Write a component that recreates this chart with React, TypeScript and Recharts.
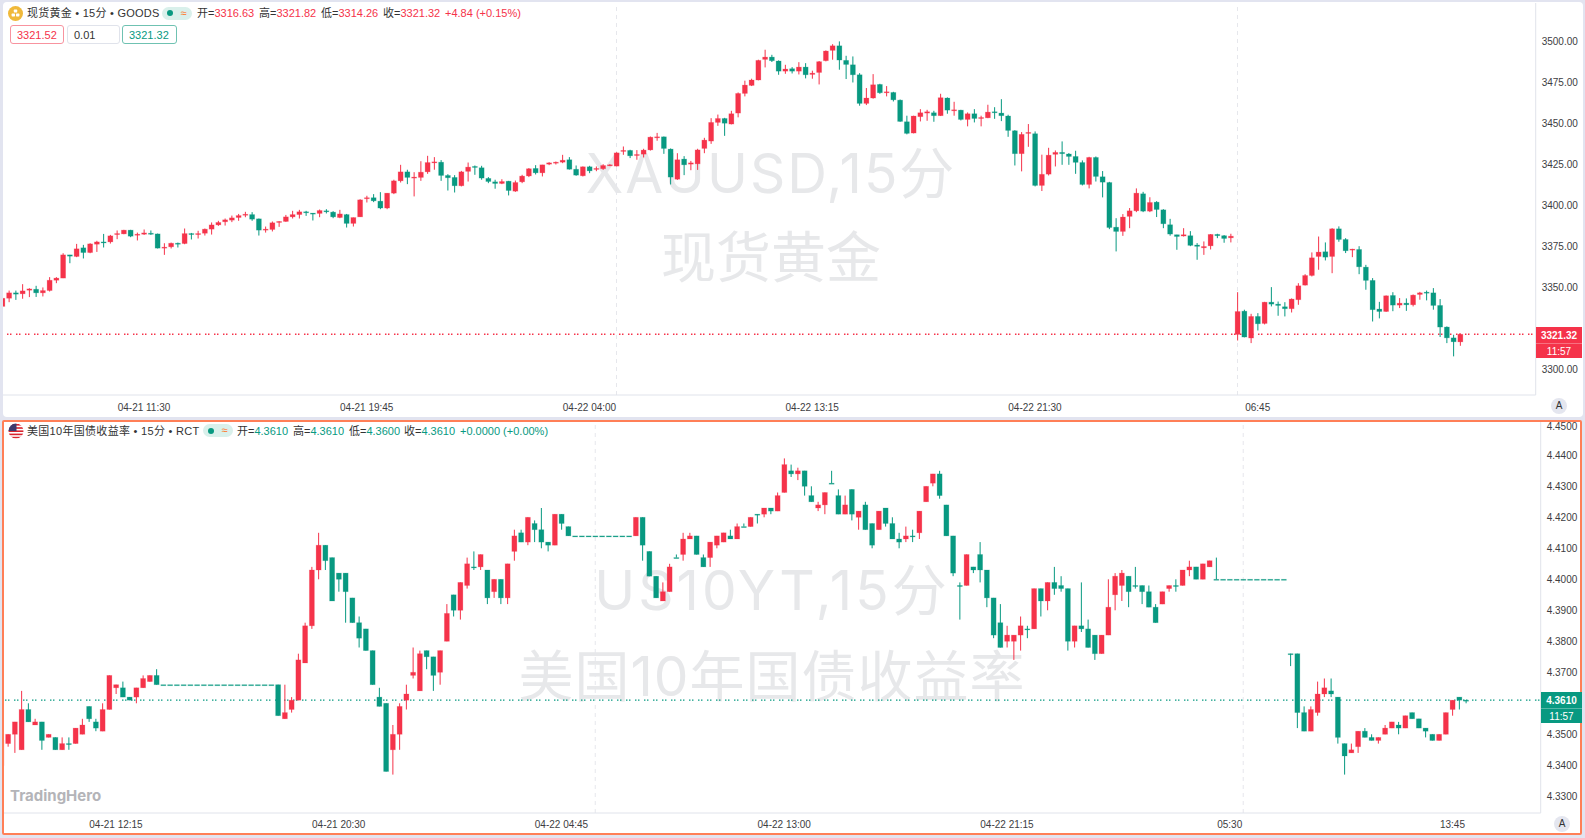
// Two stacked candlestick panels: spot gold and the US 10Y yield, 15 minute bars.

import { ComposedChart, Bar, XAxis, YAxis, ReferenceLine } from 'recharts'

const UP = '#f5334a'
const DOWN = '#089981'
const FONT = "'Liberation Sans', 'Noto Sans CJK SC', sans-serif"

const xauOpen = [
  3338.3, 3343.3, 3346.6, 3346, 3348.2, 3348.8, 3346.6, 3348, 3354.3, 3355.6,
  3369.8, 3368.8, 3374.1, 3371.2, 3376.3, 3377.7, 3377.7, 3382.2, 3382.6, 3384.9,
  3381.8, 3382.4, 3383, 3382.6, 3373.9, 3374.7, 3376.9, 3376.7, 3382.8, 3382.2,
  3383, 3385.5, 3388.1, 3390, 3391, 3392.6, 3394, 3394.4, 3391.8, 3384.9,
  3385.3, 3389.6, 3390.2, 3393, 3394.4, 3396.1, 3395.3, 3395.1, 3396.7, 3395.9,
  3392.6, 3394.4, 3389, 3393, 3404.1, 3404.7, 3402.6, 3398.4, 3407.5, 3415,
  3420.5, 3416.7, 3417.1, 3420.5, 3426.2, 3426.4, 3418.3, 3417.1, 3412, 3420.8,
  3423.8, 3423, 3416.5, 3414.4, 3413.4, 3414.8, 3408.7, 3414.4, 3418, 3422.6,
  3419.9, 3425.2, 3425.8, 3426.4, 3427.9, 3422.1, 3418.1, 3423.6, 3422, 3422.4,
  3424.2, 3424, 3433, 3433.6, 3430.5, 3431.3, 3433.9, 3441.3, 3441.9, 3434.4,
  3416, 3428.3, 3425.2, 3425.4, 3434.8, 3439.3, 3450.7, 3453.1, 3449.7, 3456.4,
  3468.4, 3473.3, 3476.6, 3489.2, 3490.6, 3488.2, 3482, 3483.5, 3482, 3484.5,
  3480, 3481.2, 3488.4, 3494.7, 3497.5, 3488.6, 3485.9, 3479.8, 3462.3, 3465.6,
  3473.9, 3468.8, 3469, 3464.3, 3451.1, 3444.2, 3454.2, 3456.4, 3456.6, 3454.8,
  3465.6, 3457.8, 3458.2, 3452.5, 3456, 3453.1, 3453.5, 3457.2, 3456.4, 3454.6,
  3445.6, 3431.6, 3444, 3443.8, 3412.2, 3419.1, 3431.2, 3432.4, 3431.4, 3429.9,
  3426.2, 3412.8, 3429.3, 3417.5, 3414, 3386.7, 3384.1, 3393.3, 3396.7, 3407.1,
  3396.5, 3402, 3397.3, 3388.2, 3382.1, 3381.3, 3381.5, 3375.8, 3374.1, 3375.3,
  3382.3, 3381.5, 3380.2, 3321.2, 3335.4, 3319, 3332.2, 3327.9, 3340.9, 3339.7,
  3338.1, 3336.9, 3342.4, 3351.3, 3357.2, 3368.8, 3371.7, 3368.8, 3385.7, 3379.2,
  3372.7, 3373.1, 3362.3, 3354.2, 3336.7, 3335.2, 3345, 3339.1, 3340.3, 3339.3,
  3345.6, 3347, 3346.6, 3338.9, 3325.7, 3319.1, 3316.63,
]
const xauHigh = [
  3343.3, 3348, 3348, 3351.9, 3349.4, 3350.9, 3349.9, 3356.2, 3356.2, 3370.8,
  3369.8, 3376.5, 3375.9, 3376.9, 3378.4, 3382.6, 3382, 3384.7, 3385.1, 3385.1,
  3383.4, 3385.3, 3384.7, 3382.8, 3376.9, 3377.3, 3377.3, 3385.9, 3383.2, 3384.5,
  3385.9, 3389.6, 3390.6, 3392, 3393.8, 3394.8, 3396.1, 3395.9, 3392, 3387.1,
  3390.2, 3390.4, 3394.2, 3396.7, 3397.3, 3396.7, 3395.3, 3397.5, 3397.7, 3396.5,
  3397.3, 3394.8, 3392.6, 3403.8, 3405.9, 3406.9, 3408.1, 3407.5, 3415.7, 3424.8,
  3421.8, 3420.3, 3427, 3430.3, 3429.5, 3427.7, 3419.1, 3418.5, 3421.1, 3426.2,
  3424.4, 3424.2, 3417.3, 3415.7, 3416, 3415, 3415.2, 3418.7, 3422.8, 3424.6,
  3424.8, 3426.4, 3426.8, 3430.9, 3429.5, 3424.4, 3423.8, 3424.2, 3423.8, 3425.2,
  3425.2, 3432.5, 3436, 3434, 3433.8, 3434.6, 3442.1, 3444.3, 3442.1, 3434.8,
  3431.9, 3430.1, 3427.2, 3434.6, 3441.3, 3453.3, 3455.5, 3453.5, 3457.8, 3469,
  3476.2, 3477.4, 3489, 3495.1, 3492, 3488.6, 3485.9, 3484.5, 3487.5, 3486.9,
  3482.3, 3488.2, 3494.7, 3498.5, 3500.2, 3491.4, 3491, 3480.8, 3471.7, 3480.2,
  3474.3, 3472.9, 3469.4, 3464.7, 3454.8, 3454.8, 3458.8, 3458.4, 3457.8, 3468.2,
  3466, 3463.3, 3458.4, 3456.8, 3458.8, 3454.8, 3461.5, 3460, 3464.9, 3455.4,
  3446, 3444.8, 3449.7, 3445.2, 3431, 3435.2, 3433.6, 3439.1, 3432, 3433.4,
  3427.5, 3429.7, 3429.9, 3421, 3414.4, 3392.2, 3394.7, 3398.4, 3410.4, 3408.3,
  3405, 3402.6, 3397.7, 3391.8, 3382.1, 3386.1, 3384.3, 3377, 3378, 3382.5,
  3382.7, 3381.9, 3382.7, 3347, 3336.3, 3333.8, 3334.2, 3341.1, 3350.1, 3341.3,
  3340.9, 3343.2, 3352.5, 3358, 3371.3, 3381, 3377.4, 3386.1, 3387.2, 3380,
  3373.5, 3375.1, 3363.7, 3355.6, 3341.1, 3345, 3347, 3343.4, 3343.2, 3345.6,
  3347.2, 3348, 3349.5, 3342.8, 3326.1, 3321, 3321.82,
]
const xauLow = [
  3338.3, 3340.9, 3342.3, 3343, 3344, 3344.1, 3344.4, 3347.4, 3352.5, 3355.6,
  3364.7, 3368.4, 3367.6, 3370.8, 3371.6, 3374.3, 3376.7, 3379.4, 3382.4, 3380.6,
  3378.6, 3382, 3382, 3373.7, 3369.8, 3373.7, 3374.3, 3376.3, 3379.2, 3379.8,
  3381.6, 3382.2, 3387.5, 3387.7, 3389.8, 3390.6, 3392.8, 3390.6, 3381.6, 3383.4,
  3384.1, 3386.9, 3390, 3392, 3392, 3393.6, 3390.8, 3392.8, 3395.1, 3392.2,
  3392.2, 3386.5, 3387.1, 3393, 3401.8, 3402, 3397.7, 3397.7, 3406.9, 3414,
  3413, 3405.5, 3415, 3419.3, 3421.8, 3415, 3409.1, 3407.9, 3411.6, 3414.6,
  3418.7, 3415.7, 3413.6, 3410.2, 3413, 3406.1, 3408.3, 3413.6, 3417.3, 3418.9,
  3417.7, 3424.6, 3425, 3425.8, 3421.9, 3418.1, 3417.7, 3419.7, 3420.9, 3421.7,
  3424, 3423.8, 3430.9, 3428.9, 3427.9, 3429.3, 3433.5, 3439.5, 3431.5, 3412.8,
  3415.6, 3418.5, 3421.5, 3421.7, 3431.9, 3437.6, 3448.6, 3442.5, 3449.5, 3453.8,
  3466.6, 3472.9, 3476.4, 3484.3, 3487.6, 3479.8, 3480.4, 3480.6, 3480, 3477.6,
  3477.4, 3473.9, 3488, 3489, 3482.9, 3477.2, 3475.1, 3460.9, 3461.3, 3465.2,
  3468.2, 3466.6, 3463.5, 3451.1, 3443.4, 3444, 3451.3, 3451.7, 3451.1, 3454.6,
  3456, 3454.8, 3451.9, 3448.3, 3450.7, 3448.3, 3453.3, 3452.9, 3451.5, 3441.9,
  3424.4, 3420.8, 3435.8, 3411.6, 3408.8, 3418.3, 3423.8, 3424.8, 3424.8, 3419.3,
  3412.2, 3410.4, 3414.6, 3404.9, 3385.5, 3371.9, 3381.4, 3386.1, 3395.9, 3395.9,
  3395.9, 3392.9, 3386.1, 3381.5, 3372.9, 3381, 3375.1, 3366.8, 3369.8, 3373.1,
  3380, 3377.2, 3377.4, 3317.5, 3319.4, 3315.9, 3323.6, 3327.3, 3338.3, 3332.6,
  3332.2, 3334.6, 3339.3, 3351.1, 3356.6, 3360.7, 3366.4, 3358.6, 3377.8, 3370.9,
  3368.4, 3358, 3348.5, 3329.1, 3331, 3335, 3335.4, 3337.3, 3335.6, 3338.3,
  3342.4, 3342, 3336.3, 3319.6, 3315.9, 3307.8, 3314.26,
]
const xauClose = [
  3343.3, 3346.6, 3345.8, 3347.8, 3349, 3346.6, 3348, 3354.3, 3355.6, 3369.8,
  3369, 3373.5, 3371.2, 3376.5, 3377.7, 3377.1, 3381.4, 3382.8, 3384.9, 3381.2,
  3382.4, 3383.2, 3382.6, 3373.9, 3374.5, 3376.9, 3376.5, 3382.8, 3382.2, 3382.8,
  3385.5, 3388.1, 3389.6, 3391.2, 3392.4, 3393.8, 3394.6, 3391.6, 3384.9, 3385.5,
  3389.4, 3390.2, 3393, 3394.4, 3396.1, 3395.7, 3394.9, 3396.9, 3396.1, 3393,
  3394.8, 3389, 3392.6, 3403.4, 3404.7, 3402.8, 3398.4, 3407.5, 3415, 3420.5,
  3417.1, 3417.3, 3420.3, 3426.2, 3426.6, 3418.3, 3416.9, 3412, 3420.5, 3423.4,
  3423.2, 3416.7, 3414.6, 3413.4, 3414.6, 3409.1, 3414, 3417.9, 3422.4, 3419.9,
  3424.8, 3426, 3426.4, 3427.6, 3422.1, 3418.5, 3423.6, 3421.1, 3422.6, 3424.4,
  3424.8, 3432.1, 3433.6, 3430.3, 3431.1, 3433.8, 3441.7, 3441.9, 3434.8, 3417.3,
  3427.9, 3424.8, 3426, 3433.9, 3439.9, 3450.7, 3453.1, 3450.2, 3456, 3468.4,
  3473.5, 3476.6, 3488.6, 3490.6, 3488.4, 3482, 3483.3, 3482, 3484.5, 3479.8,
  3480.8, 3487.8, 3494.3, 3497.5, 3488.8, 3486.1, 3479.8, 3462.3, 3465.6, 3473.7,
  3468.8, 3469.4, 3464.5, 3451.3, 3444, 3454.6, 3456.6, 3457.2, 3454.8, 3465.8,
  3458.2, 3458.4, 3452.5, 3456, 3453.1, 3453.7, 3457, 3456.6, 3454.8, 3445.8,
  3431.6, 3443.4, 3444.6, 3412.2, 3419, 3430.7, 3432.4, 3431.6, 3429.9, 3426.3,
  3412.8, 3429.3, 3417.7, 3414.2, 3386.5, 3384.1, 3392.9, 3396.7, 3407.5, 3396.5,
  3401.8, 3397.5, 3388.8, 3382.5, 3381, 3382.1, 3375.6, 3375, 3374.9, 3382.3,
  3381.5, 3379.8, 3381.2, 3335.2, 3319.6, 3332.2, 3327.7, 3340.9, 3339.7, 3338.9,
  3336.9, 3342.8, 3350.9, 3357.2, 3368, 3371.5, 3368.4, 3385.7, 3379.2, 3372.3,
  3373.3, 3362.5, 3354.2, 3336.3, 3335.2, 3344.8, 3339.1, 3340.3, 3339.3, 3345.2,
  3346.6, 3346.4, 3338.9, 3325.7, 3319.1, 3316.7, 3321.32,
]
const xauPriceTicks = [3500, 3475, 3450, 3425, 3400, 3375, 3350, 3300]
const xauTimeIndex = [21, 54, 87, 120, 153, 186]
const xauTimeLabels = ['04-21 11:30', '04-21 19:45', '04-22 04:00', '04-22 13:15', '04-22 21:30', '06:45']
const xauDayBreaks = [91, 183]
const xauLast = 3321.32

const usOpen = [
  4.34, 4.347, 4.35, 4.345, 4.358, 4.353, 4.354, 4.349, 4.349, 4.345,
  4.347, 4.347, 4.35, 4.359, 4.354, 4.351, 4.358, 4.365, 4.365, 4.362,
  4.362, 4.365, 4.367, 4.369, 4.366, 4.366, 4.366, 4.366, 4.366, 4.366,
  4.366, 4.366, 4.366, 4.366, 4.366, 4.366, 4.366, 4.366, 4.366, 4.366,
  4.366, 4.366, 4.355, 4.358, 4.361, 4.373, 4.385, 4.403, 4.411, 4.407,
  4.402, 4.402, 4.394, 4.386, 4.384, 4.377, 4.362, 4.36, 4.345, 4.35,
  4.361, 4.369, 4.364, 4.377, 4.375, 4.37, 4.38, 4.395, 4.39, 4.398,
  4.404, 4.404, 4.403, 4.396, 4.4, 4.394, 4.409, 4.415, 4.412, 4.418,
  4.416, 4.412, 4.411, 4.421, 4.417, 4.414, 4.414, 4.414, 4.414, 4.414,
  4.414, 4.414, 4.414, 4.414, 4.414, 4.42, 4.409, 4.401, 4.393, 4.396,
  4.407, 4.408, 4.413, 4.414, 4.407, 4.407, 4.411, 4.412, 4.414, 4.413,
  4.417, 4.417, 4.421, 4.421, 4.423, 4.422, 4.428, 4.435, 4.434, 4.435,
  4.427, 4.423, 4.424, 4.431, 4.427, 4.421, 4.429, 4.42, 4.424, 4.418,
  4.416, 4.423, 4.418, 4.413, 4.413, 4.414, 4.415, 4.425, 4.431, 4.434,
  4.424, 4.414, 4.398, 4.398, 4.404, 4.408, 4.403, 4.394, 4.386, 4.38,
  4.38, 4.382, 4.384, 4.384, 4.397, 4.393, 4.399, 4.398, 4.397, 4.38,
  4.385, 4.384, 4.382, 4.376, 4.382, 4.395, 4.398, 4.401, 4.398, 4.398,
  4.396, 4.391, 4.392, 4.397, 4.398, 4.398, 4.403, 4.404, 4.4, 4.404,
  4.4, 4.4, 4.4, 4.4, 4.4, 4.4, 4.4, 4.4, 4.4, 4.4,
  4.4, 4.376, 4.376, 4.357, 4.351, 4.357, 4.363, 4.364, 4.362, 4.347,
  4.344, 4.346, 4.351, 4.349, 4.348, 4.35, 4.352, 4.353, 4.352, 4.357,
  4.355, 4.352, 4.35, 4.348, 4.35, 4.358, 4.362, 4.361,
]
const usHigh = [
  4.348, 4.35, 4.354, 4.364, 4.36, 4.355, 4.354, 4.35, 4.349, 4.349,
  4.349, 4.352, 4.355, 4.359, 4.355, 4.36, 4.369, 4.366, 4.367, 4.362,
  4.365, 4.369, 4.369, 4.371, 4.366, 4.366, 4.366, 4.366, 4.366, 4.366,
  4.366, 4.366, 4.366, 4.366, 4.366, 4.366, 4.366, 4.366, 4.366, 4.366,
  4.366, 4.366, 4.366, 4.362, 4.376, 4.386, 4.404, 4.415, 4.411, 4.407,
  4.402, 4.402, 4.394, 4.388, 4.384, 4.377, 4.365, 4.36, 4.353, 4.36,
  4.366, 4.378, 4.377, 4.377, 4.375, 4.377, 4.392, 4.395, 4.399, 4.407,
  4.409, 4.408, 4.403, 4.4, 4.4, 4.405, 4.416, 4.416, 4.42, 4.419,
  4.423, 4.412, 4.421, 4.421, 4.417, 4.414, 4.414, 4.414, 4.414, 4.414,
  4.414, 4.414, 4.414, 4.414, 4.42, 4.42, 4.409, 4.401, 4.399, 4.405,
  4.408, 4.415, 4.415, 4.414, 4.408, 4.412, 4.414, 4.415, 4.416, 4.418,
  4.418, 4.42, 4.421, 4.423, 4.423, 4.428, 4.439, 4.437, 4.436, 4.435,
  4.43, 4.425, 4.428, 4.435, 4.429, 4.427, 4.429, 4.422, 4.425, 4.418,
  4.422, 4.423, 4.42, 4.415, 4.417, 4.416, 4.422, 4.43, 4.434, 4.435,
  4.424, 4.414, 4.399, 4.408, 4.404, 4.412, 4.403, 4.394, 4.392, 4.385,
  4.382, 4.388, 4.385, 4.397, 4.397, 4.399, 4.404, 4.401, 4.397, 4.385,
  4.399, 4.387, 4.382, 4.382, 4.4, 4.402, 4.403, 4.401, 4.404, 4.398,
  4.398, 4.392, 4.396, 4.398, 4.4, 4.403, 4.406, 4.404, 4.405, 4.406,
  4.407, 4.4, 4.4, 4.4, 4.4, 4.4, 4.4, 4.4, 4.4, 4.4,
  4.4, 4.376, 4.376, 4.359, 4.359, 4.367, 4.368, 4.368, 4.362, 4.347,
  4.347, 4.351, 4.352, 4.35, 4.349, 4.353, 4.354, 4.354, 4.356, 4.357,
  4.355, 4.352, 4.35, 4.35, 4.357, 4.361, 4.362, 4.361,
]
const usLow = [
  4.34, 4.346, 4.344, 4.345, 4.354, 4.353, 4.345, 4.349, 4.345, 4.345,
  4.345, 4.347, 4.35, 4.354, 4.351, 4.351, 4.358, 4.363, 4.362, 4.361,
  4.36, 4.365, 4.367, 4.366, 4.366, 4.366, 4.366, 4.366, 4.366, 4.366,
  4.366, 4.366, 4.366, 4.366, 4.366, 4.366, 4.366, 4.366, 4.366, 4.366,
  4.366, 4.356, 4.355, 4.357, 4.361, 4.373, 4.384, 4.4, 4.403, 4.393,
  4.396, 4.386, 4.386, 4.378, 4.377, 4.366, 4.359, 4.338, 4.337, 4.345,
  4.358, 4.368, 4.364, 4.371, 4.364, 4.366, 4.38, 4.388, 4.387, 4.397,
  4.403, 4.403, 4.392, 4.394, 4.392, 4.392, 4.406, 4.412, 4.411, 4.412,
  4.41, 4.409, 4.411, 4.416, 4.414, 4.414, 4.414, 4.414, 4.414, 4.414,
  4.414, 4.414, 4.414, 4.414, 4.414, 4.406, 4.401, 4.394, 4.393, 4.396,
  4.407, 4.406, 4.413, 4.408, 4.404, 4.404, 4.41, 4.412, 4.413, 4.413,
  4.417, 4.417, 4.418, 4.42, 4.421, 4.422, 4.428, 4.433, 4.432, 4.427,
  4.425, 4.422, 4.421, 4.431, 4.421, 4.421, 4.419, 4.416, 4.416, 4.41,
  4.416, 4.417, 4.413, 4.41, 4.412, 4.412, 4.413, 4.425, 4.43, 4.426,
  4.414, 4.401, 4.387, 4.398, 4.402, 4.399, 4.391, 4.381, 4.378, 4.378,
  4.374, 4.377, 4.381, 4.384, 4.388, 4.39, 4.395, 4.396, 4.377, 4.378,
  4.383, 4.378, 4.374, 4.376, 4.382, 4.39, 4.393, 4.391, 4.397, 4.392,
  4.391, 4.386, 4.392, 4.396, 4.396, 4.398, 4.401, 4.4, 4.4, 4.404,
  4.4, 4.4, 4.4, 4.4, 4.4, 4.4, 4.4, 4.4, 4.4, 4.4,
  4.4, 4.372, 4.352, 4.351, 4.351, 4.356, 4.362, 4.362, 4.347, 4.337,
  4.344, 4.344, 4.349, 4.348, 4.347, 4.35, 4.352, 4.35, 4.352, 4.355,
  4.352, 4.349, 4.348, 4.348, 4.35, 4.356, 4.358, 4.36,
]
const usClose = [
  4.348, 4.35, 4.354, 4.358, 4.354, 4.354, 4.348, 4.35, 4.345, 4.347,
  4.347, 4.352, 4.353, 4.355, 4.352, 4.358, 4.369, 4.366, 4.362, 4.361,
  4.365, 4.368, 4.369, 4.366, 4.366, 4.366, 4.366, 4.366, 4.366, 4.366,
  4.366, 4.366, 4.366, 4.366, 4.366, 4.366, 4.366, 4.366, 4.366, 4.366,
  4.366, 4.356, 4.357, 4.361, 4.374, 4.385, 4.403, 4.411, 4.406, 4.393,
  4.4, 4.396, 4.386, 4.381, 4.377, 4.366, 4.359, 4.338, 4.35, 4.359,
  4.363, 4.37, 4.376, 4.375, 4.369, 4.377, 4.389, 4.39, 4.399, 4.405,
  4.404, 4.408, 4.394, 4.4, 4.394, 4.405, 4.414, 4.412, 4.42, 4.416,
  4.412, 4.411, 4.421, 4.418, 4.414, 4.414, 4.414, 4.414, 4.414, 4.414,
  4.414, 4.414, 4.414, 4.414, 4.42, 4.411, 4.401, 4.394, 4.396, 4.404,
  4.407, 4.413, 4.414, 4.408, 4.404, 4.412, 4.414, 4.415, 4.413, 4.417,
  4.417, 4.42, 4.421, 4.423, 4.422, 4.427, 4.437, 4.434, 4.435, 4.43,
  4.425, 4.424, 4.428, 4.431, 4.421, 4.424, 4.421, 4.422, 4.416, 4.411,
  4.422, 4.418, 4.413, 4.412, 4.414, 4.414, 4.422, 4.43, 4.434, 4.427,
  4.414, 4.402, 4.398, 4.408, 4.403, 4.403, 4.394, 4.382, 4.378, 4.382,
  4.382, 4.385, 4.384, 4.397, 4.393, 4.399, 4.397, 4.397, 4.38, 4.385,
  4.384, 4.378, 4.376, 4.382, 4.391, 4.401, 4.402, 4.396, 4.398, 4.396,
  4.391, 4.386, 4.396, 4.398, 4.398, 4.403, 4.404, 4.4, 4.405, 4.406,
  4.4, 4.4, 4.4, 4.4, 4.4, 4.4, 4.4, 4.4, 4.4, 4.4,
  4.4, 4.376, 4.357, 4.351, 4.358, 4.363, 4.365, 4.363, 4.349, 4.343,
  4.345, 4.351, 4.349, 4.348, 4.349, 4.352, 4.354, 4.352, 4.356, 4.355,
  4.352, 4.351, 4.348, 4.35, 4.357, 4.361, 4.361, 4.361,
]
const usPriceTicks = [4.45, 4.44, 4.43, 4.42, 4.41, 4.4, 4.39, 4.38, 4.37, 4.35, 4.34, 4.33]
const usTimeIndex = [17, 50, 83, 116, 149, 182, 215]
const usTimeLabels = ['04-21 12:15', '04-21 20:30', '04-22 04:45', '04-22 13:00', '04-22 21:15', '05:30', '13:45']
const usDayBreaks = [88, 184]
const usLast = 4.361

function buildRows(open: number[], high: number[], low: number[], close: number[]) {
  return open.map((o, i) => ({
    idx: i,
    open: o,
    high: high[i],
    low: low[i],
    close: close[i],
    range: [low[i], high[i]],
  }))
}

const xauRows = buildRows(xauOpen, xauHigh, xauLow, xauClose)
const usRows = buildRows(usOpen, usHigh, usLow, usClose)

// Bar hands over the pixel box of low..high, open and close are placed inside it
function Candle(props: any) {
  const { x, y, width, height, payload } = props
  const { open, high, low, close } = payload
  const color = close > open ? UP : DOWN
  const cx = x + width / 2
  const span = high - low
  const toY = (v: number) => (span > 0 ? y + ((high - v) / span) * height : y)
  const top = toY(Math.max(open, close))
  const bottom = toY(Math.min(open, close))
  const bodyH = Math.max(bottom - top, 1)
  return (
    <g>
      {height > 0 && <rect x={cx - 0.5} y={y} width={1} height={height} fill={color} />}
      <rect
        x={cx - 2.5}
        y={top}
        width={5}
        height={bodyH}
        fill={color}
        stroke={color}
        strokeOpacity={0.25}
        strokeWidth={0.8}
      />
    </g>
  )
}

// A label sitting at the very top of the plot is nudged down so it stays inside the panel
function PriceTick(props: any) {
  const { x, y, payload, decimals } = props
  return (
    <text
      x={x}
      y={y < 10 ? y + 2 : y}
      dy="0.355em"
      textAnchor="start"
      fontSize={10}
      fill="#3d3d42"
      fontFamily={FONT}
    >
      {payload.value.toFixed(decimals)}
    </text>
  )
}

interface CandlePanelProps {
  rows: ReturnType<typeof buildRows>
  width: number
  height: number
  left: number
  marginTop: number
  marginLeft: number
  axisWidth: number
  axisHeight: number
  timeMargin: number
  xDomain: number[]
  yDomain: number[]
  priceTicks: number[]
  timeIndex: number[]
  timeLabels: string[]
  dayBreaks: number[]
  last: number
  lastStart: number
  lastColor: string
  decimals: number
}

function CandlePanel(p: CandlePanelProps) {
  return (
    <div style={{ position: 'absolute', left: p.left, top: 0 }}>
      <ComposedChart
        width={p.width}
        height={p.height}
        data={p.rows}
        margin={{ top: p.marginTop, right: 0, bottom: 0, left: p.marginLeft }}
      >
        <XAxis
          dataKey="idx"
          type="number"
          domain={p.xDomain}
          allowDataOverflow
          ticks={p.timeIndex}
          interval={0}
          height={p.axisHeight}
          tickSize={0}
          tickMargin={p.timeMargin}
          axisLine={{ stroke: '#e0e3eb' }}
          tickLine={false}
          tick={{ fontSize: 10, fill: '#3d3d42', fontFamily: FONT }}
          tickFormatter={(v: number) => p.timeLabels[p.timeIndex.indexOf(v)]}
        />
        <YAxis
          orientation="right"
          type="number"
          domain={p.yDomain}
          allowDataOverflow
          ticks={p.priceTicks}
          interval={0}
          width={p.axisWidth}
          tickSize={0}
          tickMargin={6}
          axisLine={{ stroke: '#e0e3eb' }}
          tickLine={false}
          tick={(t: any) => <PriceTick {...t} decimals={p.decimals} />}
        />
        {p.dayBreaks.map((b) => (
          <ReferenceLine key={b} x={b} stroke="#e6e7ec" strokeDasharray="4 4" zIndex={100} />
        ))}
        <ReferenceLine
          segment={[
            { x: p.lastStart, y: p.last },
            { x: p.xDomain[1], y: p.last },
          ]}
          stroke={p.lastColor}
          strokeWidth={1.3}
          strokeDasharray="1.5 1.5 1.5 4.5"
          zIndex={100}
        />
        <Bar dataKey="range" barSize={5} shape={Candle} isAnimationActive={false} />
      </ComposedChart>
    </div>
  )
}

function Abs({ x, y, size = 11, color = '#333', style, children }: any) {
  return (
    <span
      style={{
        position: 'absolute',
        left: x,
        top: y,
        fontSize: size,
        lineHeight: `${size + 3}px`,
        color,
        fontFamily: FONT,
        whiteSpace: 'nowrap',
        ...style,
      }}
    >
      {children}
    </span>
  )
}

function Watermark({ y, spacing = 0, children }: any) {
  return (
    <div
      style={{
        position: 'absolute',
        left: 168,
        width: 1200,
        top: y,
        textAlign: 'center',
        fontSize: 55,
        letterSpacing: spacing,
        lineHeight: '64px',
        color: '#e7e8ea',
        fontFamily: "Inter, 'Noto Sans CJK SC', sans-serif",
        whiteSpace: 'nowrap',
      }}
    >
      {children}
    </div>
  )
}

function Pill({ x, y }: { x: number; y: number }) {
  return (
    <div
      style={{
        position: 'absolute',
        left: x,
        top: y,
        width: 30,
        height: 13,
        borderRadius: 7,
        background: '#d9f0eb',
      }}
    >
      <div
        style={{
          position: 'absolute',
          left: 5,
          top: 3.5,
          width: 6,
          height: 6,
          borderRadius: 3,
          background: DOWN,
        }}
      />
      <span
        style={{
          position: 'absolute',
          left: 18.5,
          top: -1,
          fontSize: 11,
          lineHeight: '14px',
          color: '#ff7a2f',
          fontFamily: FONT,
        }}
      >
        ≈
      </span>
    </div>
  )
}

function PriceBox({ x, w, border, color, children }: any) {
  return (
    <div
      style={{
        position: 'absolute',
        left: x,
        top: 25,
        width: w,
        height: 19,
        boxSizing: 'border-box',
        border: `1px solid ${border}`,
        borderRadius: 3,
        background: '#fff',
        fontSize: 11,
        lineHeight: '18px',
        color,
        fontFamily: FONT,
        paddingLeft: 6,
      }}
    >
      {children}
    </div>
  )
}

function LastTag({ x, y, w, color, price }: any) {
  return (
    <div
      style={{
        position: 'absolute',
        left: x,
        top: y,
        width: w,
        height: 31,
        background: color,
        color: '#fff',
        fontSize: 10,
        fontFamily: FONT,
        textAlign: 'center',
        lineHeight: '15px',
      }}
    >
      <div style={{ fontWeight: 700, paddingTop: 1, borderBottom: '1px solid rgba(255,255,255,0.3)' }}>{price}</div>
      <div>11:57</div>
    </div>
  )
}

function AutoBadge({ x, y }: { x: number; y: number }) {
  return (
    <div
      style={{
        position: 'absolute',
        left: x - 8,
        top: y - 8,
        width: 16,
        height: 16,
        borderRadius: 8,
        background: '#e4e6ef',
        textAlign: 'center',
        fontSize: 10,
        lineHeight: '16px',
        color: '#333',
        fontFamily: FONT,
      }}
    >
      A
    </div>
  )
}

function UsFlag() {
  return (
    <svg width={16} height={16} style={{ position: 'absolute', left: 8, top: 423 }}>
      <defs>
        <clipPath id="flagClip">
          <circle cx={8} cy={8} r={7.5} />
        </clipPath>
      </defs>
      <g clipPath="url(#flagClip)">
        <rect width={16} height={16} fill="#fff" />
        <rect y={1} width={16} height={1.6} fill="#d8232f" />
        <rect y={4.2} width={16} height={1.6} fill="#d8232f" />
        <rect y={7.4} width={16} height={1.6} fill="#d8232f" />
        <rect y={10.6} width={16} height={1.6} fill="#d8232f" />
        <rect y={13.8} width={16} height={1.6} fill="#d8232f" />
        <rect width={8.5} height={8} fill="#3c3b6e" />
      </g>
    </svg>
  )
}

function GoldIcon() {
  return (
    <svg width={15} height={15} style={{ position: 'absolute', left: 8, top: 5.5 }}>
      <circle cx={7.5} cy={7.5} r={7.5} fill="#f0b93a" />
      <rect x={5.8} y={3.6} width={3.4} height={2.8} rx={0.6} fill="#fff" />
      <rect x={3.6} y={7.6} width={3.4} height={2.8} rx={0.6} fill="#fff" />
      <rect x={8} y={7.6} width={3.4} height={2.8} rx={0.6} fill="#fff" />
    </svg>
  )
}

export default function App() {
  return (
    <div
      style={{
        position: 'fixed',
        left: 0,
        top: 0,
        width: 1585,
        height: 838,
        background: '#e2e4f0',
        overflow: 'hidden',
      }}
    >
      {/* gold panel */}
      <div
        style={{
          position: 'absolute',
          left: 3,
          top: 2,
          width: 1580,
          height: 415,
          background: '#fff',
          borderRadius: 4,
          overflow: 'hidden',
        }}
      >
        <Watermark y={139} spacing={2}>XAUUSD,15分</Watermark>
        <Watermark y={223}>现货黄金</Watermark>
        <CandlePanel
          rows={xauRows}
          width={1593}
          height={415}
          left={-13}
          marginTop={1}
          marginLeft={5.5}
          axisWidth={47.3}
          axisHeight={22}
          timeMargin={8.5}
          xDomain={[-1, 227.18]}
          yDomain={[3284.2, 3523.64]}
          priceTicks={xauPriceTicks}
          timeIndex={xauTimeIndex}
          timeLabels={xauTimeLabels}
          dayBreaks={xauDayBreaks}
          last={xauLast}
          lastStart={0.7}
          lastColor={UP}
          decimals={2}
        />
      </div>

      {/* yield panel */}
      <div
        style={{
          position: 'absolute',
          left: 2,
          top: 420,
          width: 1580,
          height: 415,
          boxSizing: 'border-box',
          background: '#fff',
          border: '2px solid #ff7f57',
          borderRadius: 2,
          overflow: 'hidden',
        }}
      >
        <Watermark y={136} spacing={3}>US10YT,15分</Watermark>
        <Watermark y={222} spacing={1}>美国10年国债收益率</Watermark>
        <CandlePanel
          rows={usRows}
          width={1592}
          height={411}
          left={-14}
          marginTop={0}
          marginLeft={4.5}
          axisWidth={41.3}
          axisHeight={20}
          timeMargin={8}
          xDomain={[-1, 228.07]}
          yDomain={[4.32461, 4.45074]}
          priceTicks={usPriceTicks}
          timeIndex={usTimeIndex}
          timeLabels={usTimeLabels}
          dayBreaks={usDayBreaks}
          last={usLast}
          lastStart={0.55}
          lastColor={DOWN}
          decimals={4}
        />
      </div>

      {/* gold header */}
      <GoldIcon />
      <Abs x={27} y={6} style={{ letterSpacing: 0.25 }}>现货黄金 • 15分 • GOODS</Abs>
      <Pill x={162} y={6.5} />
      <Abs x={197} y={6}>开=<span style={{ color: UP }}>3316.63</span></Abs>
      <Abs x={259} y={6}>高=<span style={{ color: UP }}>3321.82</span></Abs>
      <Abs x={321} y={6}>低=<span style={{ color: UP }}>3314.26</span></Abs>
      <Abs x={383} y={6}>收=<span style={{ color: UP }}>3321.32</span></Abs>
      <Abs x={445} y={6} color={UP}>+4.84 (+0.15%)</Abs>
      <PriceBox x={10} w={54} border="#f8939f" color={UP}>3321.52</PriceBox>
      <PriceBox x={67} w={53} border="#e0e3eb" color="#333">0.01</PriceBox>
      <PriceBox x={122} w={55} border="#6fc2b2" color={DOWN}>3321.32</PriceBox>
      <LastTag x={1536} y={327} w={46} color={UP} price="3321.32" />
      <AutoBadge x={1559} y={406} />

      {/* yield header */}
      <UsFlag />
      <Abs x={27} y={424} style={{ letterSpacing: 0.3 }}>美国10年国债收益率 • 15分 • RCT</Abs>
      <Pill x={203} y={424} />
      <Abs x={237} y={424}>开=<span style={{ color: DOWN }}>4.3610</span></Abs>
      <Abs x={293} y={424}>高=<span style={{ color: DOWN }}>4.3610</span></Abs>
      <Abs x={349} y={424}>低=<span style={{ color: DOWN }}>4.3600</span></Abs>
      <Abs x={404} y={424}>收=<span style={{ color: DOWN }}>4.3610</span></Abs>
      <Abs x={460} y={424} color={DOWN}>+0.0000 (+0.00%)</Abs>
      <LastTag x={1541} y={692} w={41} color={DOWN} price="4.3610" />
      <AutoBadge x={1562} y={824} />

      <Abs x={10} y={787} size={15} color="#b4b4b8" style={{ fontFamily: 'Inter, sans-serif', fontWeight: 700 }}>
        TradingHero
      </Abs>
    </div>
  )
}
